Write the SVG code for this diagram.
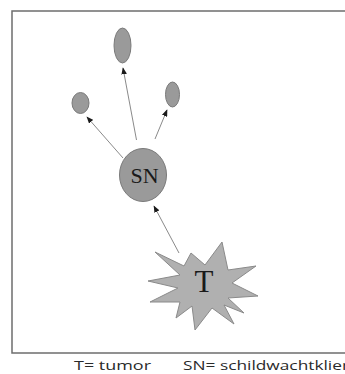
<svg xmlns="http://www.w3.org/2000/svg" width="345" height="374" viewBox="0 0 345 374">
<defs>
<style>
.node{fill:#9a9a9a;stroke:#7a7a7a;stroke-width:1}
.conn{stroke:#8a8a8a;stroke-width:1;fill:none;marker-end:url(#ah)}
.lbl{font-family:"Liberation Serif","Times New Roman",serif;fill:#1a1a1a;text-anchor:middle}
.leg{font-family:"Open Sans","Liberation Sans",sans-serif;font-size:13.5px;fill:#2a2a2a}
</style>
<marker id="ah" viewBox="0 0 10 8" refX="9" refY="4" markerWidth="7" markerHeight="5.6" orient="auto" markerUnits="userSpaceOnUse">
<path d="M0,0 L10,4 L0,8 Z" fill="#1a1a1a"/>
</marker>
</defs>
<rect width="345" height="374" fill="#ffffff"/>
<path d="M350,11 L12,11 L12,353 L350,353" fill="none" stroke="#6e6e6e" stroke-width="1.5"/>
<g id="connectors">
<line class="conn" x1="123" y1="158" x2="87" y2="117"/>
<line class="conn" x1="136.5" y1="140" x2="123" y2="68"/>
<line class="conn" x1="155" y1="139" x2="167" y2="110"/>
<line class="conn" x1="179" y1="253" x2="154" y2="206"/>
</g>
<g id="node-top"><ellipse class="node" cx="122.5" cy="45.5" rx="8.5" ry="17.5"/></g>
<g id="node-left"><ellipse class="node" cx="80.5" cy="103" rx="8.5" ry="10.5"/></g>
<g id="node-right"><ellipse class="node" cx="172.5" cy="94.5" rx="7" ry="12.5"/></g>
<g id="node-SN">
<ellipse class="node" cx="143" cy="175" rx="23.5" ry="26.5"/>
<text class="lbl" x="144.5" y="182.5" font-size="22">SN</text>
</g>
<g id="node-T">
<polygon fill="#b0b0b0" stroke="#8a8a8a" stroke-width="1" points="191,253 205,265 222,242 228,270 256,266 232,283 258,296 228,298 244,313 224,305 234,324 212,308 195,330 192,306 176,318 180,302 150,302 178,288 148,281 180,275 155,252 184,266"/>
<text class="lbl" x="204" y="292" font-size="31">T</text>
</g>
<g id="legend">
<text class="leg" x="74" y="370" textLength="77" lengthAdjust="spacingAndGlyphs">T= tumor</text>
<text class="leg" x="183" y="370" textLength="166" lengthAdjust="spacingAndGlyphs">SN= schildwachtklier</text>
</g>
</svg>
